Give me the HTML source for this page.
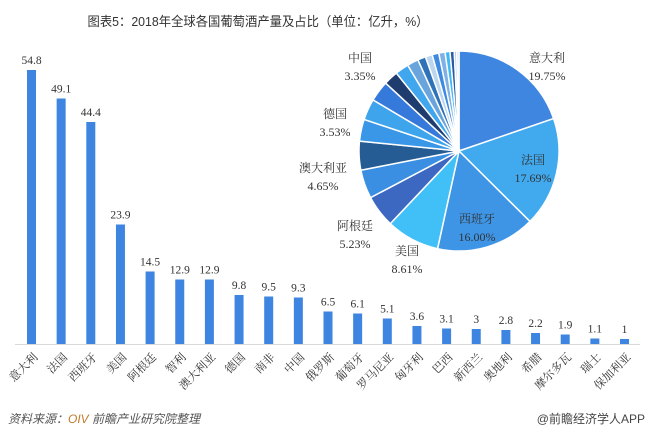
<!DOCTYPE html>
<html><head><meta charset="utf-8">
<style>
html,body{margin:0;padding:0;background:#fff;}
svg{display:block;}
.t{font-family:"Liberation Sans","Noto Sans CJK SC",sans-serif;}
.s{font-family:"Liberation Serif","Noto Serif CJK SC",serif;}
</style></head>
<body>
<svg id="c" width="650" height="436" xmlns="http://www.w3.org/2000/svg">
<text x="258" y="26" text-anchor="middle" class="t" font-size="13" fill="#333" textLength="341" lengthAdjust="spacingAndGlyphs">图表5：2018年全球各国葡萄酒产量及占比（单位：亿升，%）</text>
<g id="bars"></g>
<g id="pie"></g>
<text x="8" y="423" class="t" font-size="12" font-style="italic" fill="#555">资料来源：<tspan fill="#c07a2a">OIV</tspan>  前瞻产业研究院整理</text>
<text x="645" y="423" text-anchor="end" class="t" font-size="12" fill="#444">@前瞻经济学人APP</text>
</svg>
<script>
var names=["意大利","法国","西班牙","美国","阿根廷","智利","澳大利亚","德国","南非","中国","俄罗斯","葡萄牙","罗马尼亚","匈牙利","巴西","新西兰","奥地利","希腊","摩尔多瓦","瑞士","保加利亚"];
var vals=[54.8,49.1,44.4,23.9,14.5,12.9,12.9,9.8,9.5,9.3,6.5,6.1,5.1,3.6,3.1,3,2.8,2.2,1.9,1.1,1];
var h="";
var base=344,k=5.0;
h+='<line x1="15" y1="'+(base+0.5)+'" x2="640" y2="'+(base+0.5)+'" stroke="#d9d9d9" stroke-width="1"/>';
for(var i=0;i<21;i++){
 var x=27+i*29.65,hh=vals[i]*k,cx=x+4.5;
 h+='<rect x="'+x+'" y="'+(base-hh)+'" width="9" height="'+hh+'" fill="#3d85e0"/>';
 h+='<text x="'+cx+'" y="'+(base-hh-6)+'" text-anchor="middle" class="s" font-size="11.5" fill="#333">'+vals[i]+'</text>';
 h+='<text transform="translate('+(cx+4)+','+(base+11)+') rotate(-45)" text-anchor="end" class="s" font-size="11.5" fill="#333" dy="4">'+names[i]+'</text>';
}
document.getElementById('bars').innerHTML=h;
var cols=["#3f86e0","#41a9ee","#3e95e6","#40c0f6","#3c68c2","#3b8fe2","#245c93","#3a96e6","#3ea4ec","#3579da","#1f3c6e","#40a6ee","#6aa4dc","#2f72b8","#bcd6f0","#3d8ae0","#7fb0e6","#40b8f4","#2d5aa0","#a9c9ee","#c6dcf2"];
var tot=0;vals.forEach(function(v){tot+=v});
var cx=459,cy=151,r=100,a=-Math.PI/2,p="";
for(var i=0;i<21;i++){
 var b=a+vals[i]/tot*2*Math.PI;
 var x1=cx+r*Math.cos(a),y1=cy+r*Math.sin(a),x2=cx+r*Math.cos(b),y2=cy+r*Math.sin(b);
 p+='<path d="M'+cx+','+cy+' L'+x1+','+y1+' A'+r+','+r+' 0 '+((b-a)>Math.PI?1:0)+' 1 '+x2+','+y2+' Z" fill="'+cols[i]+'" stroke="#fff" stroke-width="1.5"/>';
 a=b;
}
var L=[["意大利","19.75%",547,58],["法国","17.69%",533,160],["西班牙","16.00%",477,219],["美国","8.61%",407,251],["阿根廷","5.23%",355,226],["澳大利亚","4.65%",323,168],["德国","3.53%",335,114],["中国","3.35%",360,58]];
L.forEach(function(l){
 p+='<text x="'+l[2]+'" y="'+(l[3]+4)+'" text-anchor="middle" class="s" font-size="12" fill="#333">'+l[0]+'</text>';
 p+='<text x="'+l[2]+'" y="'+(l[3]+22)+'" text-anchor="middle" class="s" font-size="12" fill="#333">'+l[1]+'</text>';
});
document.getElementById('pie').innerHTML=p;
</script>
</body></html>
